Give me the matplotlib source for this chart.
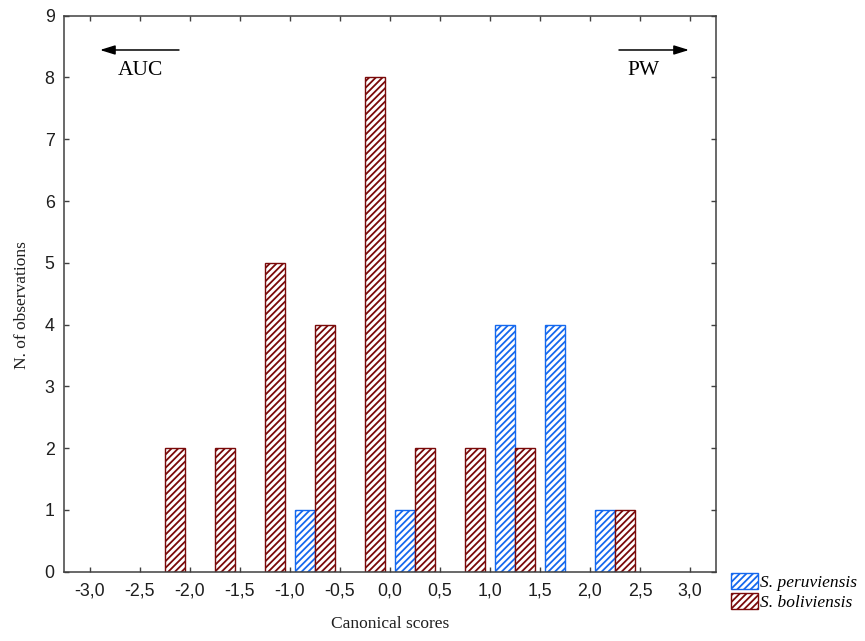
import numpy as np
import matplotlib
matplotlib.use("Agg")
import matplotlib.pyplot as plt
from matplotlib.patches import Patch

# Histogram of canonical scores (bin centres, width 0.5)
bin_centers = [-2.75, -2.25, -1.75, -1.25, -0.75, -0.25, 0.25, 0.75, 1.25, 1.75, 2.25, 2.75]
peruviensis = [0, 0, 0, 0, 1, 0, 1, 0, 4, 4, 1, 0]
boliviensis = [0, 2, 2, 5, 4, 8, 2, 2, 2, 0, 1, 0]

series_names = ["S. peruviensis", "S. boliviensis"]
series_colors = ["#1468ee", "#7a0a0a"]

x_ticks = np.arange(-3.0, 3.01, 0.5)
x_tick_labels = [f"{v:.1f}".replace(".", ",") for v in x_ticks]
y_ticks = list(range(0, 10))

plt.rcParams["hatch.linewidth"] = 1.3

fig = plt.figure(figsize=(8.65, 6.41), dpi=100)
ax = fig.add_axes([0.0743, 0.1081, 0.7531, 0.8674])

centers = np.array(bin_centers)
bar_w = 0.2
for offset, values, color in [(-bar_w / 2, peruviensis, series_colors[0]),
                              (bar_w / 2, boliviensis, series_colors[1])]:
    vals = np.array(values)
    keep = vals > 0
    ax.bar(centers[keep] + offset, vals[keep], width=bar_w,
           facecolor="white", edgecolor=color, hatch="/////", linewidth=1.0,
           zorder=2)

ax.set_xlim(-3.257, 3.257)
ax.set_ylim(0, 9)
ax.set_xticks(x_ticks)
ax.set_xticklabels(x_tick_labels)
ax.set_yticks(y_ticks)

for lab in ax.get_xticklabels() + ax.get_yticklabels():
    lab.set_fontfamily("Liberation Sans")
    lab.set_fontsize(12.8)
    lab.set_color("#1e1e1e")

ax.tick_params(direction="in", length=3.5, width=1.0, color="#404040",
               top=True, right=True)
ax.tick_params(axis="x", pad=8)
ax.tick_params(axis="y", pad=7)
for sp in ax.spines.values():
    sp.set_color("#404040")
    sp.set_linewidth(1.1)

ax.set_xlabel("Canonical scores", fontfamily="Liberation Serif", fontsize=12.5,
              labelpad=12, color="#1e1e1e")
ax.set_ylabel("N. of observations", fontfamily="Liberation Serif", fontsize=12.5,
              color="#1e1e1e")
ax.yaxis.set_label_coords(-0.053, 0.48)

# Direction annotations
arrow_props = dict(arrowstyle="-|>,head_length=0.9,head_width=0.28",
                   color="black", lw=1.1, mutation_scale=10,
                   shrinkA=0, shrinkB=0)
ax.annotate("", xy=(-2.90, 8.445), xytext=(-2.11, 8.445), arrowprops=arrow_props)
ax.annotate("", xy=(2.99, 8.445), xytext=(2.29, 8.445), arrowprops=arrow_props)
ax.text(-2.50, 8.12, "AUC", fontfamily="Liberation Serif", fontsize=15.5,
        ha="center", va="center")
ax.text(2.54, 8.12, "PW", fontfamily="Liberation Serif", fontsize=15.5,
        ha="center", va="center")

handles = [Patch(facecolor="white", edgecolor=c, hatch="/////", linewidth=1.0)
           for c in series_colors]
fig.legend(handles, series_names, loc="upper left",
           bbox_to_anchor=(730.7 / 865, 1 - 572.7 / 641),
           frameon=False, borderpad=0, borderaxespad=0,
           handlelength=1.6, handleheight=1.05, handletextpad=0.1,
           labelspacing=0.12,
           prop={"family": "Liberation Serif", "style": "italic", "size": 12.5})

fig.savefig("out.png", dpi=100)
